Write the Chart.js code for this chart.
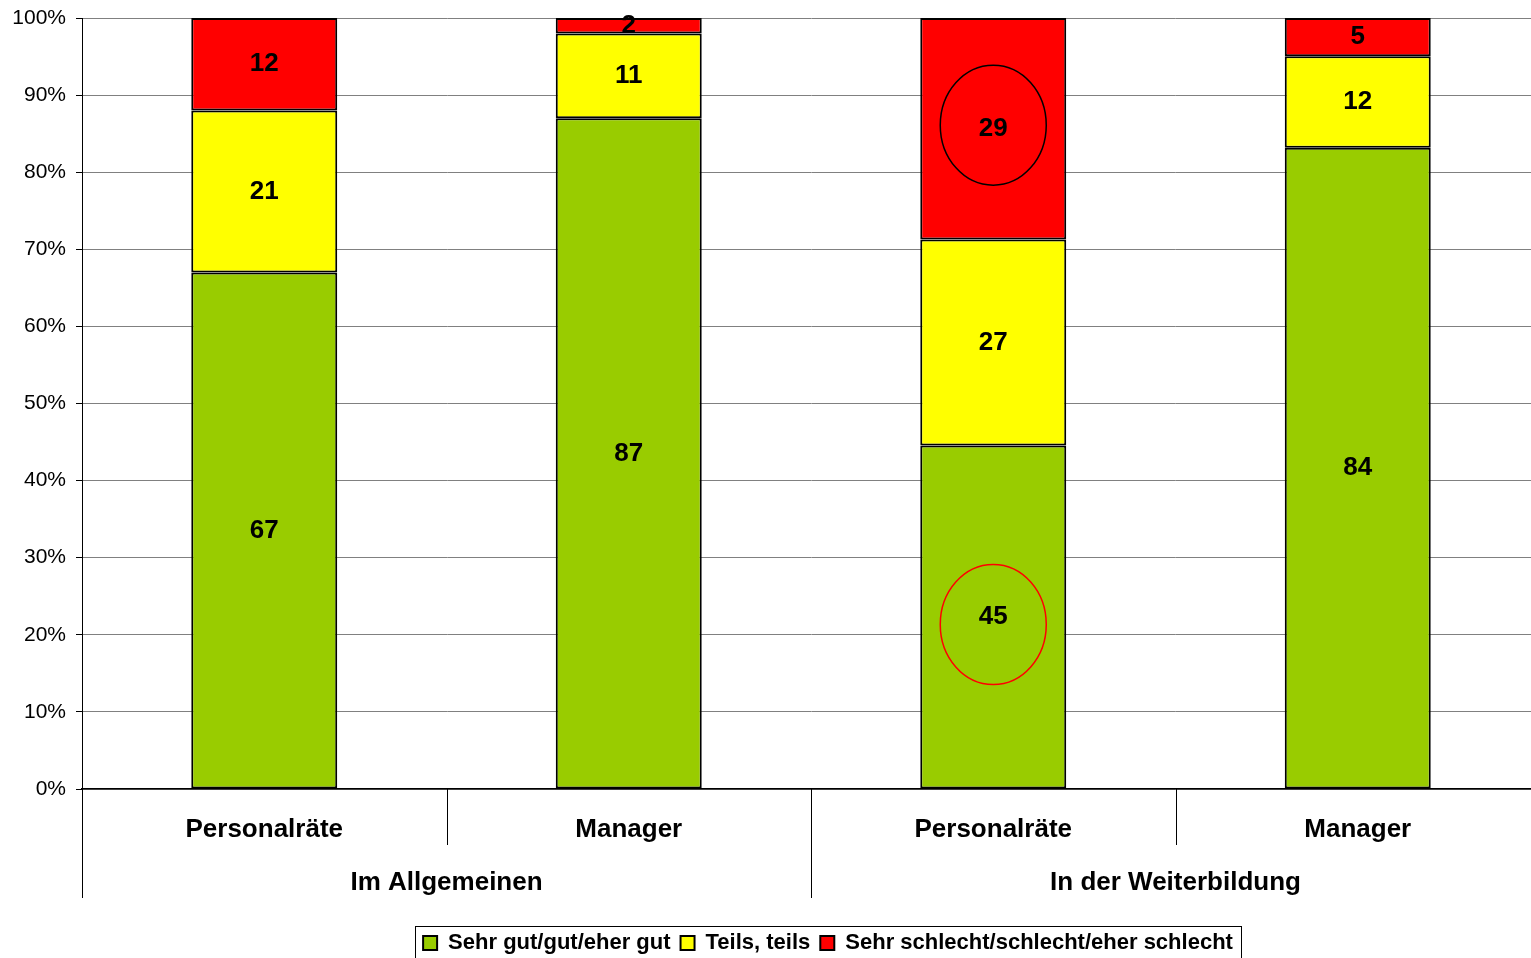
<!DOCTYPE html>
<html>
<head>
<meta charset="utf-8">
<script src="https://cdn.jsdelivr.net/npm/chart.js@4/dist/chart.umd.min.js"></script>
<style>
  html, body { margin: 0; padding: 0; background: #fff; overflow: hidden; }
  canvas { display: block; }
</style>
</head>
<body>
<canvas id="chart" width="1540" height="964"></canvas>
<script>
// DATA ----------------------------------------
const kategorien = ["Personalräte", "Manager", "Personalräte", "Manager"];
const gruppen = ["Im Allgemeinen", "In der Weiterbildung"];
const gut = [67, 87, 45, 84];
const teils = [21, 11, 27, 12];
const schlecht = [12, 2, 29, 5];
const serienNamen = ["Sehr gut/gut/eher gut", "Teils, teils", "Sehr schlecht/schlecht/eher schlecht"];
const farben = ["#99CC00", "#FFFF00", "#FF0000"];
const yTicks = [0, 10, 20, 30, 40, 50, 60, 70, 80, 90, 100];

// 100% gestapelt: Anteil pro Balken
const summen = gut.map((v, i) => v + teils[i] + schlecht[i]);
const anteil = arr => arr.map((v, i) => v / summen[i] * 100);
const rohwerte = [gut, teils, schlecht];

// markierte Werte (Kreise): dataset, index, Farbe, Verschiebung
const kreise = [
  {ds: 2, idx: 2, farbe: "#000000", dy: -3.5},
  {ds: 0, idx: 2, farbe: "#FF0000", dy: 7.5}
];

const FONT = "'Liberation Sans', Arial, sans-serif";
const LEGENDE_VERSATZ = 58;

// PLUGIN: Werte in den Balken ---------------------
const wertePlugin = {
  id: "werte",
  afterDatasetsDraw(chart) {
    const ctx = chart.ctx;
    ctx.save();
    ctx.font = "bold 26px " + FONT;
    ctx.fillStyle = "#000";
    ctx.textAlign = "center";
    ctx.textBaseline = "middle";
    chart.data.datasets.forEach((ds, d) => {
      chart.getDatasetMeta(d).data.forEach((el, i) => {
        const mitte = (el.y + el.base) / 2;
        ctx.fillText(String(rohwerte[d][i]), el.x, mitte);
      });
    });
    // Kreise
    kreise.forEach(k => {
      const el = chart.getDatasetMeta(k.ds).data[k.idx];
      const mitte = (el.y + el.base) / 2 + k.dy;
      ctx.beginPath();
      ctx.ellipse(el.x, mitte, 53, 60, 0, 0, Math.PI * 2);
      ctx.strokeStyle = k.farbe;
      ctx.lineWidth = 1.5;
      ctx.stroke();
    });
    ctx.restore();
  }
};

// PLUGIN: Gruppen unter der x-Achse + Legendenrahmen
const gruppenPlugin = {
  id: "gruppen",
  afterLayout(chart) {
    // Legende etwas nach rechts wie im Original
    const lg = chart.legend;
    if (!lg) return;
    lg.left += LEGENDE_VERSATZ;
    lg.right += LEGENDE_VERSATZ;
    lg.legendHitBoxes.forEach(b => { b.left += LEGENDE_VERSATZ; });
  },
  afterDraw(chart) {
    const ctx = chart.ctx;
    const area = chart.chartArea;
    const breite = (area.right - area.left) / kategorien.length;
    ctx.save();
    ctx.strokeStyle = "#000";
    ctx.lineWidth = 1;
    for (let i = 0; i <= kategorien.length; i++) {
      const px = Math.round(area.left + i * breite) + 0.5;
      const ende = (i % 2 === 0) ? area.bottom + 109 : area.bottom + 56;
      ctx.beginPath();
      ctx.moveTo(px, area.bottom);
      ctx.lineTo(px, ende);
      ctx.stroke();
    }
    ctx.font = "bold 26px " + FONT;
    ctx.fillStyle = "#000";
    ctx.textAlign = "center";
    ctx.textBaseline = "middle";
    gruppen.forEach((g, j) => {
      const mx = area.left + (j * 2 + 1) * breite;
      ctx.fillText(g, mx, area.bottom + 94);
    });
    // Rahmen um die Legende
    const lg = chart.legend;
    if (lg && lg.legendHitBoxes.length) {
      const boxen = lg.legendHitBoxes;
      const l = Math.min(...boxen.map(b => b.left)) - 8;
      const r = Math.max(...boxen.map(b => b.left + b.width)) + 8;
      const t = Math.min(...boxen.map(b => b.top)) - 6;
      ctx.strokeStyle = "#000";
      ctx.lineWidth = 1;
      ctx.strokeRect(Math.round(l) + 0.5, Math.round(t) + 0.5, Math.round(r - l), 60);
    }
    ctx.restore();
  }
};

// CHART --------------------------------------
new Chart(document.getElementById("chart"), {
  type: "bar",
  data: {
    labels: kategorien,
    datasets: [
      {label: serienNamen[0], data: anteil(gut), backgroundColor: farben[0]},
      {label: serienNamen[1], data: anteil(teils), backgroundColor: farben[1]},
      {label: serienNamen[2], data: anteil(schlecht), backgroundColor: farben[2]}
    ].map(d => Object.assign(d, {
      borderColor: "#000",
      borderWidth: 2,
      borderSkipped: false,
      categoryPercentage: 1,
      barPercentage: 0.4005
    }))
  },
  options: {
    responsive: false,
    animation: false,
    layout: {padding: {top: 18, right: 0, left: 0, bottom: 0}},
    plugins: {
      tooltip: {enabled: false},
      legend: {
        position: "bottom",
        labels: {
          color: "#000",
          font: {family: FONT, size: 22, weight: "bold"},
          boxWidth: 14,
          boxHeight: 14,
          padding: 10
        }
      }
    },
    scales: {
      x: {
        stacked: true,
        grid: {display: false},
        border: {display: true, color: "#000", width: 1.5},
        ticks: {
          color: "#000",
          font: {family: FONT, size: 26, weight: "bold"},
          padding: 17,
          maxRotation: 0
        },
        afterFit(scale) {
          scale.height = 133;
          scale.paddingRight = 0;
          scale.paddingLeft = 0;
        }
      },
      y: {
        stacked: true,
        min: 0,
        max: 100,
        afterBuildTicks(scale) { scale.ticks = yTicks.map(v => ({value: v})); },
        grid: {color: "#808080", lineWidth: 1, tickLength: 6, tickColor: "#000"},
        border: {display: true, color: "#000", width: 1},
        ticks: {
          color: "#000",
          font: {family: FONT, size: 21},
          padding: 10,
          callback: v => v + "%"
        },
        afterFit(scale) {
          scale.width = 82;
          scale.paddingTop = 0;
          scale.paddingBottom = 0;
        }
      }
    }
  },
  plugins: [wertePlugin, gruppenPlugin]
});
</script>
</body>
</html>
